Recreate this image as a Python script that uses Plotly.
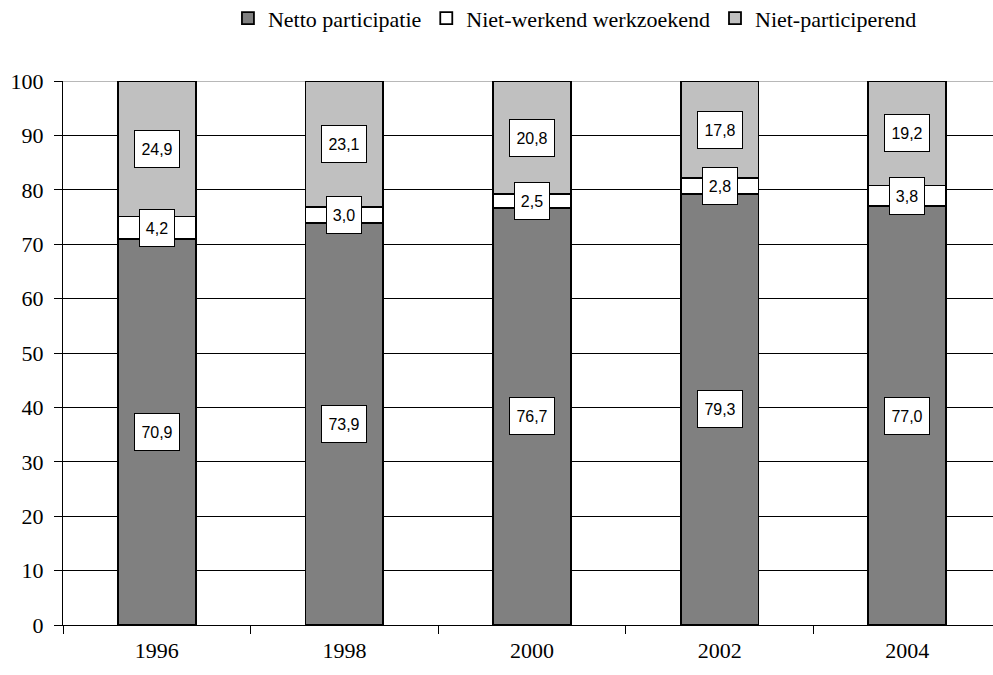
import plotly.graph_objects as go

years = ["1996", "1998", "2000", "2002", "2004"]
netto = [70.9, 73.9, 76.7, 79.3, 77.0]
werkzoekend = [4.2, 3.0, 2.5, 2.8, 3.8]
niet_part = [24.9, 23.1, 20.8, 17.8, 19.2]
series_names = ["Netto participatie", "Niet-werkend werkzoekend", "Niet-participerend"]
colors = ["#808080", "#FFFFFF", "#C0C0C0"]
y_ticks = [0, 10, 20, 30, 40, 50, 60, 70, 80, 90, 100]

series = [netto, werkzoekend, niet_part]

fig = go.Figure()
for name, vals, col in zip(series_names, series, colors):
    fig.add_trace(go.Bar(
        x=years, y=vals, name=name,
        marker=dict(color=col, line=dict(color="black", width=1.8)),
        width=0.415,
    ))

def fmt(v):
    return f"{v:.1f}".replace(".", ",")

annotations = []
for i, yr in enumerate(years):
    base = 0
    for vals in series:
        v = vals[i]
        txt = fmt(v)
        annotations.append(dict(
            x=i, y=base + v / 2, xref="x", yref="y", text=txt,
            showarrow=False, font=dict(family="Liberation Sans, Arial", size=16, color="black"),
            bgcolor="white", bordercolor="black", borderwidth=1, borderpad=0,
            width=10 * len(txt) + 4, height=36,
        ))
        base += v

serif = "Liberation Serif, Times New Roman, serif"
fig.update_layout(
    barmode="stack",
    width=993, height=675,
    margin=dict(l=63, r=0, t=81, b=50, autoexpand=False),
    paper_bgcolor="white", plot_bgcolor="white",
    font=dict(family=serif, size=22, color="black"),
    showlegend=True,
    legend=dict(orientation="h", x=0.579, xanchor="center", xref="container",
                y=0.973, yref="container", yanchor="middle",
                font=dict(family=serif, size=22),
                itemwidth=30, traceorder="normal", tracegroupgap=0),
    annotations=annotations,
    xaxis=dict(type="category", range=[-0.5, 4.457], showline=True, linecolor="black", linewidth=1,
               ticks="outside", tickson="boundaries", ticklen=8, tickcolor="black",
               showgrid=False, tickfont=dict(family=serif, size=22), ticklabelstandoff=6),
    yaxis=dict(range=[0, 100], tickvals=y_ticks, showline=True, linecolor="black", linewidth=1,
               ticks="outside", ticklen=8, tickcolor="black",
               showgrid=True, gridcolor="black", gridwidth=1, zeroline=False,
               tickfont=dict(family=serif, size=22), ticklabelstandoff=6),
)
fig.add_shape(type="line", xref="paper", yref="y", x0=0, x1=1, y0=100, y1=100,
              line=dict(color="#A0A0A0", width=1.5), layer="below")

fig.write_html("out.html", config={"displayModeBar": False},
               post_script="document.body.style.margin='0';")
